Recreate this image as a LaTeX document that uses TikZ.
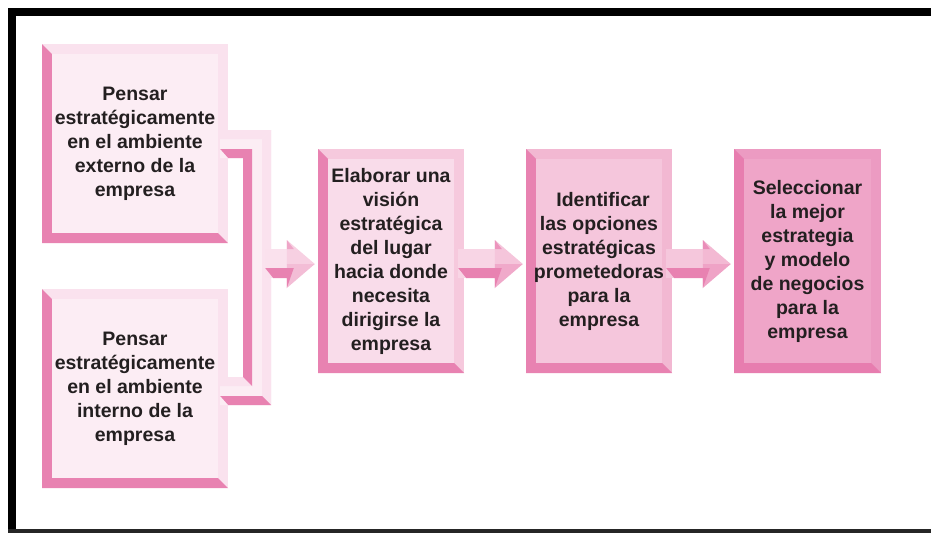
\documentclass[tikz,border=0pt]{standalone}
\usepackage{fontspec}
\setmainfont{Liberation Sans}
\usetikzlibrary{calc}
\definecolor{txt}{HTML}{231F20}
\definecolor{dk}{HTML}{E882B1}
\definecolor{fa}{HTML}{FCEDF4}
\definecolor{la}{HTML}{FAE2EE}
\definecolor{fb}{HTML}{F9DCEA}
\definecolor{lb}{HTML}{F6C9DD}
\definecolor{fc}{HTML}{F5C6DC}
\definecolor{lc}{HTML}{F2B8D2}
\definecolor{fd}{HTML}{EFA5C8}
\definecolor{ld}{HTML}{EC9BC2}
\definecolor{dd}{HTML}{E77DAF}
\definecolor{aoneS}{HTML}{FAE1ED}
\definecolor{aoneU}{HTML}{F7D0E2}
\definecolor{aoneL}{HTML}{F3BDD6}
\definecolor{aoneW}{HTML}{EFA6C8}
\definecolor{atwoS}{HTML}{F8D5E5}
\definecolor{atwoU}{HTML}{F5C5DB}
\definecolor{atwoL}{HTML}{F0A9CA}
\definecolor{atwoW}{HTML}{EC94BD}
\definecolor{athrS}{HTML}{F5C7DC}
\definecolor{athrU}{HTML}{F3B9D3}
\definecolor{athrL}{HTML}{EFA3C6}
\definecolor{athrW}{HTML}{EA8DB9}

\tikzset{
  bevbox/.style n args={3}{rectangle, inner sep=0pt, fill=#2, text=txt, align=center,
    font=\bfseries\fontsize{19.5}{24}\selectfont,
    path picture={
      \fill[#3] (path picture bounding box.north west) -- ++(10pt,-10pt)
        -- ($(path picture bounding box.south west)+(10pt,10pt)$)
        -- ($(path picture bounding box.south east)+(-10pt,10pt)$)
        -- (path picture bounding box.south east)
        -- (path picture bounding box.south west) -- cycle;
      \fill[#1] ($(path picture bounding box.north west)+(10pt,-10pt)$) rectangle
                ($(path picture bounding box.south east)+(-10pt,10pt)$);
    }},
}

\newcommand\fatarrow[6]{%
  \coordinate (S) at (#1 |- #2.west);
  \coordinate (T) at (#2.west);
  \fill[#3] ($(S)+(-6pt,12pt)$) -- ($(T)+(-29pt,12pt)$) -- ($(T)+(-29pt,-17pt)$) -- ($(S)+(-6pt,-17pt)$) -- cycle;
  \fill[#4] ($(T)+(-31pt,21pt)$) -- ($(T)+(-3pt,-3pt)$) -- ($(T)+(-31pt,-3pt)$) -- cycle;
  \fill[#5] ($(T)+(-31pt,-3pt)$) -- ($(T)+(-3pt,-3pt)$) -- ($(T)+(-31pt,-27pt)$) -- cycle;
  \fill[dk] ($(S)+(-6pt,-7pt)$) -- ($(T)+(-24pt,-7pt)$) -- ($(T)+(-31pt,-27pt)$)
     -- ($(T)+(-31pt,-17pt)$) -- ($(S)+(2pt,-17pt)$) -- cycle;
  \fill[#6] ($(T)+(-31pt,21pt)$) -- ($(T)+(-24pt,12pt)$) -- ($(T)+(-31pt,12pt)$) -- cycle;
}

\begin{document}
\begin{tikzpicture}[x=1pt,y=-1pt]
\useasboundingbox (0,0) rectangle (931,533);
\fill[white] (0,0) rectangle (931,533);

% frame
\fill[black] (8,8) rectangle (931,16);
\fill[black] (8,8) rectangle (16,533);
\fill[black!85] (8,529) rectangle (931,533);

% boxes
\node[bevbox={fa}{la}{dk}, minimum width=186pt, minimum height=199pt] (b1) at (135,143.5)
  {Pensar\\estratégicamente\\en el ambiente\\externo de la\\empresa};
\node[bevbox={fa}{la}{dk}, minimum width=186pt, minimum height=199pt] (b2) at (135,388.5)
  {Pensar\\estratégicamente\\en el ambiente\\interno de la\\empresa};
\node[bevbox={fb}{lb}{dk}, minimum width=146pt, minimum height=224pt] (b3) at (391,261)
  {Elaborar una\\visión\\estratégica\\del lugar\\hacia donde\\necesita\\dirigirse la\\empresa};
\node[bevbox={fc}{lc}{dk}, minimum width=146pt, minimum height=224pt] (b4) at (599,261)
  {\hspace*{8pt}Identificar\\las opciones\\estratégicas\\prometedoras\\para la\\empresa};
\node[bevbox={fd}{ld}{dd}, minimum width=147pt, minimum height=224pt] (b5) at (807.5,261)
  {Seleccionar\\la mejor\\estrategia\\y modelo\\de negocios\\para la\\empresa};

% bracket joining b1 and b2
\coordinate (xL0) at ($(b1.east)+(-8pt,0pt)$);
\coordinate (xL1) at ($(b1.east)+(0pt,0pt)$);
\coordinate (xLi) at ($(b1.east)+(15pt,0pt)$);
\coordinate (xLd) at ($(b1.east)+(24pt,0pt)$);
\coordinate (xRl) at ($(b1.east)+(34pt,0pt)$);
\coordinate (xR)  at ($(b1.east)+(43pt,0pt)$);
\coordinate (yT0) at ($(b1.east)+(0pt,13.5pt)$);
\coordinate (yT1) at ($(b1.east)+(0pt,4.5pt)$);
\coordinate (yT2) at ($(b1.east)+(0pt,-5.5pt)$);
\coordinate (yT3) at ($(b1.east)+(0pt,-14.5pt)$);
\coordinate (yB0) at ($(b2.east)+(0pt,11.5pt)$);
\coordinate (yB1) at ($(b2.east)+(0pt,2.5pt)$);
\coordinate (yB2) at ($(b2.east)+(0pt,-7.5pt)$);
\coordinate (yB3) at ($(b2.east)+(0pt,-16.5pt)$);

\fill[fa] (xL0 |- yT0) -- (xR |- yT0) -- (xR |- yB3) -- (xL0 |- yB3) -- (xL0 |- yB0)
  -- (xLi |- yB0) -- (xLi |- yT3) -- (xL0 |- yT3) -- cycle;
\fill[la] (xL0 |- yT0) -- (xR |- yT0) -- (xRl |- yT1) -- (xL0 |- yT1) -- cycle;
\fill[la] (xR |- yT0) -- (xR |- yB3) -- (xRl |- yB2) -- (xRl |- yT1) -- cycle;
\fill[la] (xL0 |- yB0) -- (xLi |- yB0) -- (xLd |- yB1) -- (xL0 |- yB1) -- cycle;
\fill[dk] (xL0 |- yT2) -- (xLd |- yT2) -- (xLd |- yB1) -- (xLi |- yB0) -- (xLi |- yT3)
  -- (xL1 |- yT3) -- cycle;
\fill[dk] (xL0 |- yB2) -- (xRl |- yB2) -- (xR |- yB3) -- (xL1 |- yB3) -- cycle;
\coordinate (brk) at (xR);

% arrows
\fatarrow{brk}{b3}{aoneS}{aoneU}{aoneL}{aoneW}
\fatarrow{b3.east}{b4}{atwoS}{atwoU}{atwoL}{atwoW}
\fatarrow{b4.east}{b5}{athrS}{athrU}{athrL}{athrW}
\end{tikzpicture}
\end{document}
